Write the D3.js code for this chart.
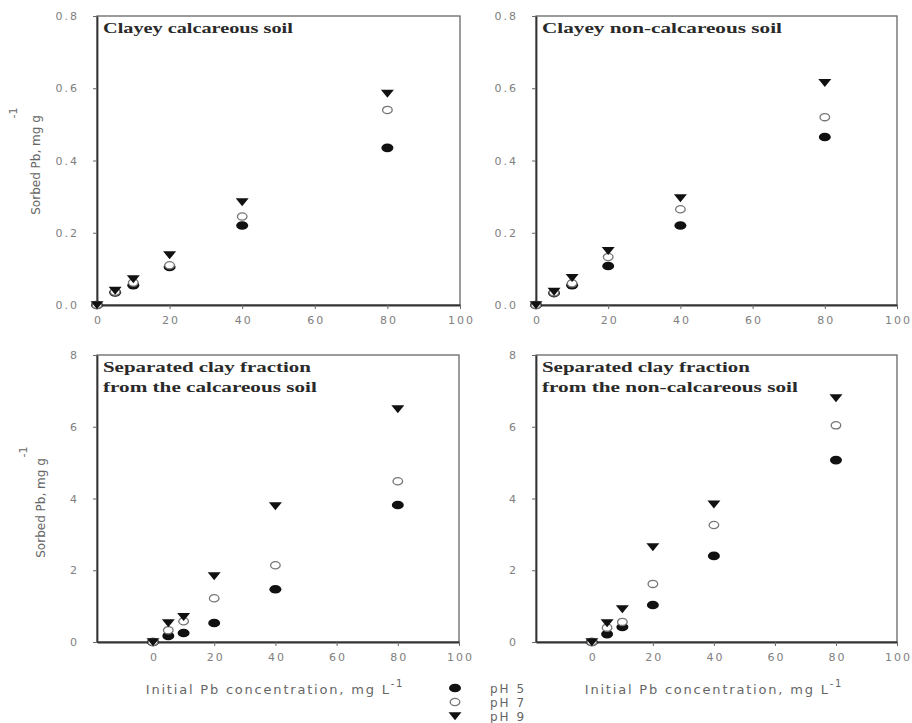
<!DOCTYPE html>
<html>
<head>
<meta charset="utf-8">
<script src="https://cdn.jsdelivr.net/npm/d3@7"></script>
<style>
	body { margin: 0; background: #fff; }
	.tick text { font-family: "DejaVu Sans", sans-serif; fill: #808080; letter-spacing: 2px; }
	.panel-title { font-family: "Liberation Serif", serif; font-weight: bold; fill: #2a2a2a; font-size: 14px; }
	.label { font-family: "DejaVu Sans", sans-serif; fill: #666; }
</style>
</head>
<body>
<div id="chart"></div>
<script>
// Initial Pb concentration, mg/L
const conc = [0, 5, 10, 20, 40, 80];

// Sorbed Pb (mg/g) for each panel and pH
const calcSoilPH5 = [0, 0.035, 0.055, 0.105, 0.22, 0.435];
const calcSoilPH7 = [0, 0.037, 0.062, 0.11, 0.245, 0.54];
const calcSoilPH9 = [0, 0.04, 0.072, 0.138, 0.285, 0.585];

const nonCalcSoilPH5 = [0, 0.033, 0.055, 0.108, 0.22, 0.465];
const nonCalcSoilPH7 = [0, 0.035, 0.06, 0.133, 0.265, 0.52];
const nonCalcSoilPH9 = [0, 0.037, 0.075, 0.15, 0.296, 0.615];

const calcClayPH5 = [0, 0.17, 0.25, 0.53, 1.47, 3.82];
const calcClayPH7 = [0, 0.33, 0.58, 1.22, 2.14, 4.48];
const calcClayPH9 = [0, 0.53, 0.7, 1.84, 3.79, 6.49];

const nonCalcClayPH5 = [0, 0.22, 0.42, 1.03, 2.4, 5.07];
const nonCalcClayPH7 = [0, 0.4, 0.56, 1.62, 3.26, 6.04];
const nonCalcClayPH9 = [0, 0.53, 0.92, 2.65, 3.84, 6.8];

const seriesNames = ["pH 5", "pH 7", "pH 9"];
const xTicks = [0, 20, 40, 60, 80, 100];
const soilYTicks = [0, 0.2, 0.4, 0.6, 0.8];
const clayYTicks = [0, 2, 4, 6, 8];

const width = 912;
const height = 723;

const svg = d3
	.select("#chart")
	.append("svg")
	.attr("width", width)
	.attr("height", height);

// Panel boxes; title widths follow the stretched lettering of the original
const panels = [
	{ title: ["Clayey calcareous soil"], titleW: [190], x0: 97, x1: 460, y0: 16, y1: 305, xMin: 0, yMax: 0.8, yTicks: soilYTicks, fmt: d3.format(".1f"), series: [calcSoilPH5, calcSoilPH7, calcSoilPH9] },
	{ title: ["Clayey non-calcareous soil"], titleW: [240], x0: 536, x1: 897, y0: 16, y1: 305, xMin: 0, yMax: 0.8, yTicks: soilYTicks, fmt: d3.format(".1f"), series: [nonCalcSoilPH5, nonCalcSoilPH7, nonCalcSoilPH9] },
	{ title: ["Separated clay fraction", "from the calcareous soil"], titleW: [208, 214], x0: 97, x1: 459, y0: 355, y1: 642, xMin: -18.3, yMax: 8, yTicks: clayYTicks, fmt: d3.format("d"), series: [calcClayPH5, calcClayPH7, calcClayPH9] },
	{ title: ["Separated clay fraction", "from the non-calcareous soil"], titleW: [208, 256], x0: 536, x1: 897, y0: 355, y1: 642, xMin: -18.3, yMax: 8, yTicks: clayYTicks, fmt: d3.format("d"), series: [nonCalcClayPH5, nonCalcClayPH7, nonCalcClayPH9] },
];

// Marker drawing: filled ellipse, open ellipse, down triangle
function drawMarker(sel, type) {
	if (type === 0) {
		sel.append("ellipse").attr("rx", 6).attr("ry", 4.3).attr("fill", "#111");
	} else if (type === 1) {
		sel.append("ellipse").attr("rx", 4.8).attr("ry", 3.6).attr("fill", "#fff").attr("stroke", "#777").attr("stroke-width", 1.3);
	} else {
		sel.append("path").attr("d", "M-6.5,-3.8L6.5,-3.8L0,4.2Z").attr("fill", "#111");
	}
}

panels.forEach((p) => {
	const x = d3.scaleLinear().domain([p.xMin, 100]).range([p.x0, p.x1]);
	const y = d3.scaleLinear().domain([0, p.yMax]).range([p.y1, p.y0]);

	const g = svg.append("g");

	// Frame
	g.append("rect")
		.attr("x", p.x0)
		.attr("y", p.y0)
		.attr("width", p.x1 - p.x0)
		.attr("height", p.y1 - p.y0)
		.attr("fill", "none")
		.attr("stroke", "#666")
		.attr("stroke-width", 1.3);

	const xAxis = g
		.append("g")
		.attr("transform", `translate(0,${p.y1})`)
		.call(d3.axisBottom(x).tickValues(xTicks).tickSize(4).tickSizeOuter(0));
	xAxis.select(".domain").attr("stroke", "#333").attr("stroke-width", 1.8);
	xAxis.selectAll(".tick line").attr("stroke", "#666");
	xAxis.selectAll(".tick text").attr("font-size", 11).attr("dy", "1.1em").attr("dx", 1);

	const yAxis = g
		.append("g")
		.attr("transform", `translate(${p.x0},0)`)
		.call(d3.axisLeft(y).tickValues(p.yTicks).tickFormat(p.fmt).tickSize(4).tickPadding(14).tickSizeOuter(0));
	yAxis.select(".domain").attr("stroke", "#333").attr("stroke-width", 1.8);
	yAxis.selectAll(".tick line").attr("stroke", "#666");
	yAxis.selectAll(".tick text").attr("font-size", 11);

	// Panel title, stretched horizontally to the original's width
	p.title.forEach((line, i) => {
		const tx = p.x0 + 6;
		const t = g.append("text")
			.attr("class", "panel-title")
			.attr("x", 0)
			.attr("y", 0)
			.text(line);
		const natural = t.node().getComputedTextLength();
		t.attr("transform", `translate(${tx},${p.y0 + 17 + i * 20}) scale(${p.titleW[i] / natural},1)`);
	});

	// Points
	p.series.forEach((vals, si) => {
		g.selectAll(null)
			.data(vals.map((v, i) => [conc[i], v]))
			.enter()
			.append("g")
			.attr("transform", (d) => `translate(${x(d[0])},${y(d[1])})`)
			.each(function () {
				drawMarker(d3.select(this), si);
			});
	});
});

// Y axis titles
[
	{ x: 40, y: 165, sx: 17, sy: 113 },
	{ x: 45, y: 508, sx: 27, sy: 452 },
].forEach((d) => {
	svg.append("text")
		.attr("class", "label")
		.attr("font-size", 12)
		.attr("transform", `translate(${d.x},${d.y}) rotate(-90)`)
		.attr("text-anchor", "middle")
		.text("Sorbed Pb, mg g");
	svg.append("text")
		.attr("class", "label")
		.attr("font-size", 11)
		.attr("transform", `translate(${d.sx},${d.sy}) rotate(-90)`)
		.attr("text-anchor", "middle")
		.text("-1");
});

// X axis titles
[275, 714].forEach((cx) => {
	const t = svg.append("text")
		.attr("class", "label")
		.attr("font-size", 13)
		.attr("letter-spacing", 1.8)
		.attr("x", cx)
		.attr("y", 694)
		.attr("text-anchor", "middle");
	t.append("tspan").text("Initial Pb concentration, mg L");
	t.append("tspan").attr("dy", -7).attr("font-size", 10).text("-1");
});

// Legend
const legend = svg.append("g").attr("transform", "translate(455,688)");
seriesNames.forEach((name, i) => {
	const row = legend.append("g").attr("transform", `translate(0,${i * 14})`);
	drawMarker(row, i);
	row.append("text")
		.attr("class", "label")
		.attr("font-size", 12)
		.attr("letter-spacing", 2)
		.attr("x", 35)
		.attr("y", 5)
		.text(name);
});
</script>
</body>
</html>
